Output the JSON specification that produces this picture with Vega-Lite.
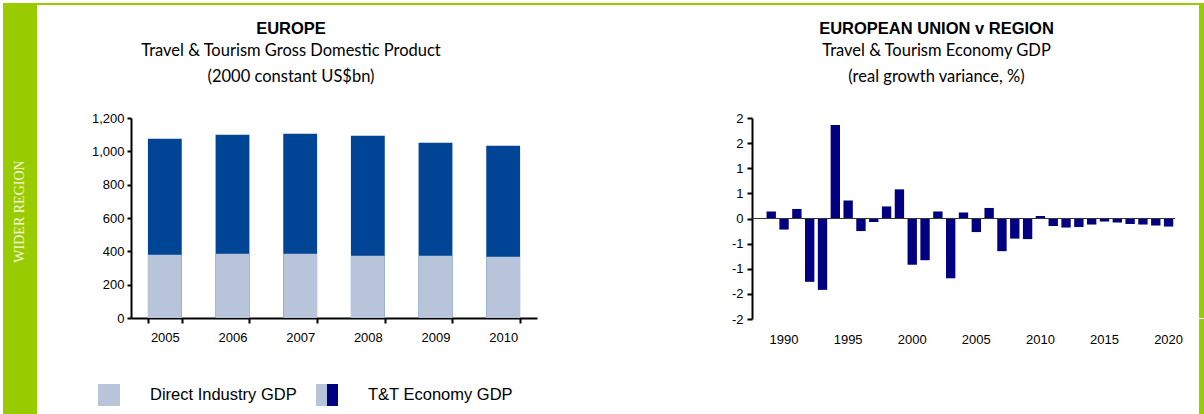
{
  "$schema": "https://vega.github.io/schema/vega-lite/v6.json",
  "padding": {"left": 3, "top": 3, "right": 0, "bottom": 0},
  "background": "white",
  "bounds": "flush",
  "spacing": 0,
  "config": {
    "view": {"stroke": null},
    "font": "Liberation Sans",
    "axis": {"labelFont": "Liberation Sans", "labelColor": "black", "domainColor": "black", "tickColor": "black", "grid": false, "labelFontSize": 13},
    "title": {"color": "black", "subtitleColor": "black"}
  },
  "vconcat": [
    {
      "width": 1201, "height": 2,
      "view": {"fill": "#99cc00", "stroke": null},
      "data": {"values": [{"t": ""}]},
      "mark": {"type": "text", "fontSize": 0, "baseline": "top"},
      "encoding": {"text": {"field": "t"}}
    },
    {
      "bounds": "flush",
      "spacing": 0,
      "hconcat": [
        {
          "width": 34, "height": 409,
          "view": {"fill": "#99cc00", "stroke": null},
          "data": {"values": [{"label": "WIDER REGION"}]},
          "mark": {"type": "text", "angle": 270, "font": "Liberation Serif", "fontSize": 14, "color": "#f2f6dc", "align": "center", "baseline": "middle", "dx": -2},
          "encoding": {"text": {"field": "label"}}
        },
        {
          "bounds": "flush",
          "spacing": 0,
          "columns": 6,
          "concat": [
            {"width": 94, "height": 113, "data": {"values": [{"t": ""}]}, "mark": {"type": "text", "fontSize": 0}, "encoding": {"text": {"field": "t"}}},
            {"width": 406, "height": 113, "data": {"values": [{"t": ""}]}, "mark": {"type": "text", "fontSize": 0}, "encoding": {"text": {"field": "t"}}},
            {"width": 215, "height": 113, "data": {"values": [{"t": ""}]}, "mark": {"type": "text", "fontSize": 0}, "encoding": {"text": {"field": "t"}}},
            {"width": 423, "height": 113, "data": {"values": [{"t": ""}]}, "mark": {"type": "text", "fontSize": 0}, "encoding": {"text": {"field": "t"}}},
            {"width": 24, "height": 113, "data": {"values": [{"t": ""}]}, "mark": {"type": "text", "fontSize": 0}, "encoding": {"text": {"field": "t"}}},
            {"width": 5, "height": 113, "view": {"fill": "#99cc00", "stroke": null}, "data": {"values": [{"t": ""}]}, "mark": {"type": "text", "fontSize": 0}, "encoding": {"text": {"field": "t"}}},

            {"width": 94, "height": 200, "data": {"values": [{"t": ""}]}, "mark": {"type": "text", "fontSize": 0}, "encoding": {"text": {"field": "t"}}},
            {
              "width": 406, "height": 200,
              "title": {
                "text": "EUROPE",
                "subtitle": ["Travel & Tourism Gross Domestic Product", "(2000 constant US$bn)"],
                "font": "Liberation Sans", "fontSize": 16.5, "fontWeight": "bold",
                "subtitleFont": "Lato", "subtitleFontSize": 16.5, "subtitleLineHeight": 26, "subtitlePadding": 5,
                "anchor": "middle", "frame": "group", "dx": -43, "offset": 27
              },
              "data": {"values": [
                {"year": "2005", "series": "T&T Economy GDP", "value": 1076},
                {"year": "2006", "series": "T&T Economy GDP", "value": 1100},
                {"year": "2007", "series": "T&T Economy GDP", "value": 1106},
                {"year": "2008", "series": "T&T Economy GDP", "value": 1094},
                {"year": "2009", "series": "T&T Economy GDP", "value": 1052},
                {"year": "2010", "series": "T&T Economy GDP", "value": 1034},
                {"year": "2005", "series": "Direct Industry GDP", "value": 380},
                {"year": "2006", "series": "Direct Industry GDP", "value": 386},
                {"year": "2007", "series": "Direct Industry GDP", "value": 386},
                {"year": "2008", "series": "Direct Industry GDP", "value": 374},
                {"year": "2009", "series": "Direct Industry GDP", "value": 374},
                {"year": "2010", "series": "Direct Industry GDP", "value": 368}
              ]},
              "layer": [
                {
                  "mark": {"type": "bar"},
                  "encoding": {
                    "x": {"field": "year", "type": "nominal",
                      "scale": {"paddingInner": 0.5, "paddingOuter": 0.25},
                      "axis": {"title": null, "labelAngle": 0, "domainWidth": 2, "tickWidth": 2, "tickSize": 5, "tickBand": "extent", "labelPadding": 8}},
                    "y": {"field": "value", "type": "quantitative", "stack": null,
                      "scale": {"domain": [0, 1200]},
                      "axis": {"title": null, "values": [0, 200, 400, 600, 800, 1000, 1200], "tickCount": 10, "labelExpr": "format(datum.value, ',')", "domainWidth": 2, "tickWidth": 2, "tickSize": 4, "labelPadding": 3}},
                    "color": {"field": "series", "type": "nominal",
                      "scale": {"domain": ["Direct Industry GDP", "T&T Economy GDP"], "range": ["#b8c4da", "#004595"]},
                      "legend": null}
                  }
                },
                {
                  "mark": {"type": "point", "filled": true, "size": 0, "opacity": 1, "strokeWidth": 0, "shape": "square"},
                  "encoding": {
                    "fill": {"field": "series", "type": "nominal",
                      "scale": {"range": ["#b8c4da", "#000080"]},
                      "legend": {
                        "orient": "none", "legendX": 95, "legendY": 381, "direction": "horizontal", "zindex": 1,
                        "title": null, "symbolType": "square", "symbolSize": 484, "symbolStrokeWidth": 0, "symbolOpacity": 1,
                        "labelFont": "Liberation Sans", "labelFontSize": 16.5, "labelColor": "black",
                        "labelOffset": 30, "columnPadding": 19, "labelLimit": 300, "padding": 0
                      }}
                  }
                },
                {
                  "data": {"values": [{"entry": "Direct Industry GDP"}, {"entry": "T&T Economy GDP"}]},
                  "mark": {"type": "point", "filled": true, "size": 0, "opacity": 1, "strokeWidth": 0, "shape": "square", "fill": "#b8c4da"},
                  "encoding": {
                    "stroke": {"field": "entry", "type": "nominal",
                      "scale": {"range": ["#b8c4da", "#b8c4da"]},
                      "legend": {
                        "orient": "none", "legendX": 95, "legendY": 381, "direction": "horizontal", "zindex": 2,
                        "title": null, "symbolType": "M-1,-1H0V1H-1Z", "symbolSize": 484, "symbolStrokeWidth": 0, "symbolOpacity": 1, "symbolFillColor": "#b8c4da",
                        "labelFont": "Liberation Sans", "labelFontSize": 16.5, "labelColor": "black", "labelOpacity": 0,
                        "labelOffset": 30, "columnPadding": 19, "labelLimit": 300, "padding": 0
                      }}
                  }
                }
              ]
            },
            {"width": 215, "height": 200, "data": {"values": [{"t": ""}]}, "mark": {"type": "text", "fontSize": 0}, "encoding": {"text": {"field": "t"}}},
            {
              "width": 423, "height": 201,
              "title": {
                "text": "EUROPEAN UNION v REGION",
                "subtitle": ["Travel & Tourism Economy GDP", "(real growth variance, %)"],
                "font": "Liberation Sans", "fontSize": 16.5, "fontWeight": "bold",
                "subtitleFont": "Lato", "subtitleFontSize": 16.5, "subtitleLineHeight": 26, "subtitlePadding": 5,
                "anchor": "middle", "frame": "group", "dx": -27, "offset": 27
              },
              "data": {"values": [
                {"year": 1989, "value": 0.14},
                {"year": 1990, "value": -0.22},
                {"year": 1991, "value": 0.19},
                {"year": 1992, "value": -1.26},
                {"year": 1993, "value": -1.42},
                {"year": 1994, "value": 1.86},
                {"year": 1995, "value": 0.36},
                {"year": 1996, "value": -0.25},
                {"year": 1997, "value": -0.07},
                {"year": 1998, "value": 0.24},
                {"year": 1999, "value": 0.58},
                {"year": 2000, "value": -0.92},
                {"year": 2001, "value": -0.83},
                {"year": 2002, "value": 0.14},
                {"year": 2003, "value": -1.19},
                {"year": 2004, "value": 0.12},
                {"year": 2005, "value": -0.27},
                {"year": 2006, "value": 0.21},
                {"year": 2007, "value": -0.65},
                {"year": 2008, "value": -0.40},
                {"year": 2009, "value": -0.41},
                {"year": 2010, "value": 0.05},
                {"year": 2011, "value": -0.15},
                {"year": 2012, "value": -0.18},
                {"year": 2013, "value": -0.17},
                {"year": 2014, "value": -0.12},
                {"year": 2015, "value": -0.06},
                {"year": 2016, "value": -0.08},
                {"year": 2017, "value": -0.11},
                {"year": 2018, "value": -0.12},
                {"year": 2019, "value": -0.14},
                {"year": 2020, "value": -0.16}
              ]},
              "layer": [
                {
                  "mark": {"type": "bar", "color": "#000080"},
                  "encoding": {
                    "x": {"field": "year", "type": "ordinal",
                      "scale": {"domain": [1988, 1989, 1990, 1991, 1992, 1993, 1994, 1995, 1996, 1997, 1998, 1999, 2000, 2001, 2002, 2003, 2004, 2005, 2006, 2007, 2008, 2009, 2010, 2011, 2012, 2013, 2014, 2015, 2016, 2017, 2018, 2019, 2020], "paddingInner": 0.27, "paddingOuter": 0.135},
                      "axis": {"title": null, "labelAngle": 0, "values": [1990, 1995, 2000, 2005, 2010, 2015, 2020], "domain": false, "ticks": false, "labelPadding": 14}},
                    "y": {"field": "value", "type": "quantitative",
                      "scale": {"domain": [-2, 2]},
                      "axis": {"title": null, "values": [-2, -1.5, -1, -0.5, 0, 0.5, 1, 1.5, 2], "tickCount": 20, "labelExpr": "(datum.value < 0 ? '-' : '') + round(abs(datum.value))", "labelOverlap": false, "domainWidth": 2, "tickWidth": 2, "tickSize": 5, "labelPadding": 4}}
                  }
                },
                {
                  "mark": {"type": "rule", "color": "#333333", "strokeWidth": 1},
                  "encoding": {
                    "y": {"datum": 0, "type": "quantitative",
                      "axis": {"title": null, "values": [-2, -1.5, -1, -0.5, 0, 0.5, 1, 1.5, 2], "tickCount": 20, "labelExpr": "(datum.value < 0 ? '-' : '') + round(abs(datum.value))", "labelOverlap": false, "domainWidth": 2, "tickWidth": 2, "tickSize": 5, "labelPadding": 4}}
                  }
                }
              ]
            },
            {"width": 24, "height": 200, "data": {"values": [{"t": ""}]}, "mark": {"type": "text", "fontSize": 0}, "encoding": {"text": {"field": "t"}}},
            {"width": 5, "height": 200, "view": {"fill": "#99cc00", "stroke": null}, "data": {"values": [{"t": ""}]}, "mark": {"type": "text", "fontSize": 0}, "encoding": {"text": {"field": "t"}}},

            {"width": 94, "height": 96, "data": {"values": [{"t": ""}]}, "mark": {"type": "text", "fontSize": 0}, "encoding": {"text": {"field": "t"}}},
            {"width": 406, "height": 96, "data": {"values": [{"t": ""}]}, "mark": {"type": "text", "fontSize": 0}, "encoding": {"text": {"field": "t"}}},
            {"width": 215, "height": 96, "data": {"values": [{"t": ""}]}, "mark": {"type": "text", "fontSize": 0}, "encoding": {"text": {"field": "t"}}},
            {"width": 423, "height": 96, "data": {"values": [{"t": ""}]}, "mark": {"type": "text", "fontSize": 0}, "encoding": {"text": {"field": "t"}}},
            {"width": 24, "height": 96, "data": {"values": [{"t": ""}]}, "mark": {"type": "text", "fontSize": 0}, "encoding": {"text": {"field": "t"}}},
            {"width": 5, "height": 96, "view": {"fill": "#99cc00", "stroke": null}, "data": {"values": [{"t": ""}]}, "mark": {"type": "text", "fontSize": 0}, "encoding": {"text": {"field": "t"}}}
          ]
        }
      ]
    }
  ]
}
